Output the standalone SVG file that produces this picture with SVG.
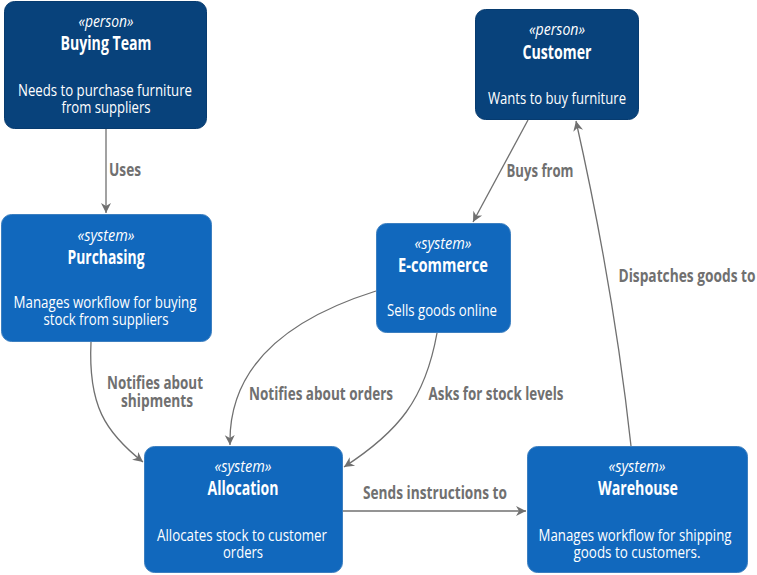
<svg xmlns="http://www.w3.org/2000/svg" width="757" height="575" viewBox="0 0 757 575">
<defs>
<style>
text{font-family:"Open Sans","Noto Sans",sans-serif;text-anchor:middle}
.person rect{fill:#08427b;stroke:#073b6f;stroke-width:1}
.system rect{fill:#1168bd;stroke:#3c7fc0;stroke-width:1}
.st{font-size:16px;font-style:italic;fill:#fff}
.ti{font-size:19px;font-weight:bold;fill:#fff}
.de{font-size:17px;fill:#fff}
.lb{font-size:17px;font-weight:bold;fill:#707070}
.edge{fill:none;stroke:#707070;stroke-width:1.3;marker-end:url(#arr)}
</style>
<marker id="arr" viewBox="0 0 12 12" refX="11" refY="6" markerWidth="12" markerHeight="12" markerUnits="userSpaceOnUse" orient="auto">
<path d="M1,1 L11,6 L1,11 L4,6 Z" fill="#707070"/>
</marker>
</defs>
<rect width="757" height="575" fill="#fff"/>
<g id="connectors">
<path class="edge" d="M106,129 L106,213"/>
<path class="edge" d="M528,120 L473,222"/>
<path class="edge" d="M631,446 Q614,290 576,121"/>
<path class="edge" d="M91,342 C88,405 105,432 143,462"/>
<path class="edge" d="M376,291 C290,318 228,365 230,445"/>
<path class="edge" d="M437,333 C425,400 398,432 344,467"/>
<path class="edge" d="M343,511 L526,511"/>
<text class="lb" x="125" y="176" textLength="32" lengthAdjust="spacingAndGlyphs">Uses</text>
<text class="lb" x="540" y="177" textLength="67" lengthAdjust="spacingAndGlyphs">Buys from</text>
<text class="lb" x="687" y="282" textLength="137" lengthAdjust="spacingAndGlyphs">Dispatches goods to</text>
<text class="lb" x="155" y="389" textLength="96" lengthAdjust="spacingAndGlyphs">Notifies about</text>
<text class="lb" x="157" y="407" textLength="72" lengthAdjust="spacingAndGlyphs">shipments</text>
<text class="lb" x="321" y="400" textLength="144" lengthAdjust="spacingAndGlyphs">Notifies about orders</text>
<text class="lb" x="496" y="400" textLength="135" lengthAdjust="spacingAndGlyphs">Asks for stock levels</text>
<text class="lb" x="435" y="499" textLength="144" lengthAdjust="spacingAndGlyphs">Sends instructions to</text>
</g>
<g id="buying-team" class="person">
<rect x="4.5" y="1.5" width="202" height="127" rx="10"/>
<text class="st" x="106" y="27" textLength="55" lengthAdjust="spacingAndGlyphs">«person»</text>
<text class="ti" x="106" y="50" textLength="91" lengthAdjust="spacingAndGlyphs">Buying Team</text>
<text class="de" x="105" y="96" textLength="174" lengthAdjust="spacingAndGlyphs">Needs to purchase furniture</text>
<text class="de" x="106" y="113" textLength="89" lengthAdjust="spacingAndGlyphs">from suppliers</text>
</g>
<g id="customer" class="person">
<rect x="475.5" y="9.5" width="163" height="110" rx="10"/>
<text class="st" x="557" y="35" textLength="56" lengthAdjust="spacingAndGlyphs">«person»</text>
<text class="ti" x="557" y="59" textLength="69" lengthAdjust="spacingAndGlyphs">Customer</text>
<text class="de" x="557" y="104" textLength="138" lengthAdjust="spacingAndGlyphs">Wants to buy furniture</text>
</g>
<g id="purchasing" class="system">
<rect x="1.5" y="214.5" width="210" height="127" rx="10"/>
<text class="st" x="106" y="241" textLength="57" lengthAdjust="spacingAndGlyphs">«system»</text>
<text class="ti" x="106" y="264" textLength="77" lengthAdjust="spacingAndGlyphs">Purchasing</text>
<text class="de" x="105" y="308" textLength="183" lengthAdjust="spacingAndGlyphs">Manages workflow for buying</text>
<text class="de" x="106" y="325" textLength="125" lengthAdjust="spacingAndGlyphs">stock from suppliers</text>
</g>
<g id="ecommerce" class="system">
<rect x="376.5" y="223.5" width="134" height="109" rx="10"/>
<text class="st" x="443" y="249" textLength="57" lengthAdjust="spacingAndGlyphs">«system»</text>
<text class="ti" x="443" y="272" textLength="90" lengthAdjust="spacingAndGlyphs">E-commerce</text>
<text class="de" x="442" y="316" textLength="110" lengthAdjust="spacingAndGlyphs">Sells goods online</text>
</g>
<g id="allocation" class="system">
<rect x="144.5" y="446.5" width="198" height="126" rx="10"/>
<text class="st" x="243" y="472" textLength="57" lengthAdjust="spacingAndGlyphs">«system»</text>
<text class="ti" x="243" y="495" textLength="71" lengthAdjust="spacingAndGlyphs">Allocation</text>
<text class="de" x="242" y="541" textLength="170" lengthAdjust="spacingAndGlyphs">Allocates stock to customer</text>
<text class="de" x="243" y="558" textLength="40" lengthAdjust="spacingAndGlyphs">orders</text>
</g>
<g id="warehouse" class="system">
<rect x="527.5" y="446.5" width="220" height="126" rx="10"/>
<text class="st" x="637" y="472" textLength="57" lengthAdjust="spacingAndGlyphs">«system»</text>
<text class="ti" x="638" y="495" textLength="80" lengthAdjust="spacingAndGlyphs">Warehouse</text>
<text class="de" x="635" y="541" textLength="193" lengthAdjust="spacingAndGlyphs">Manages workflow for shipping</text>
<text class="de" x="637" y="558" textLength="127" lengthAdjust="spacingAndGlyphs">goods to customers.</text>
</g>
</svg>
